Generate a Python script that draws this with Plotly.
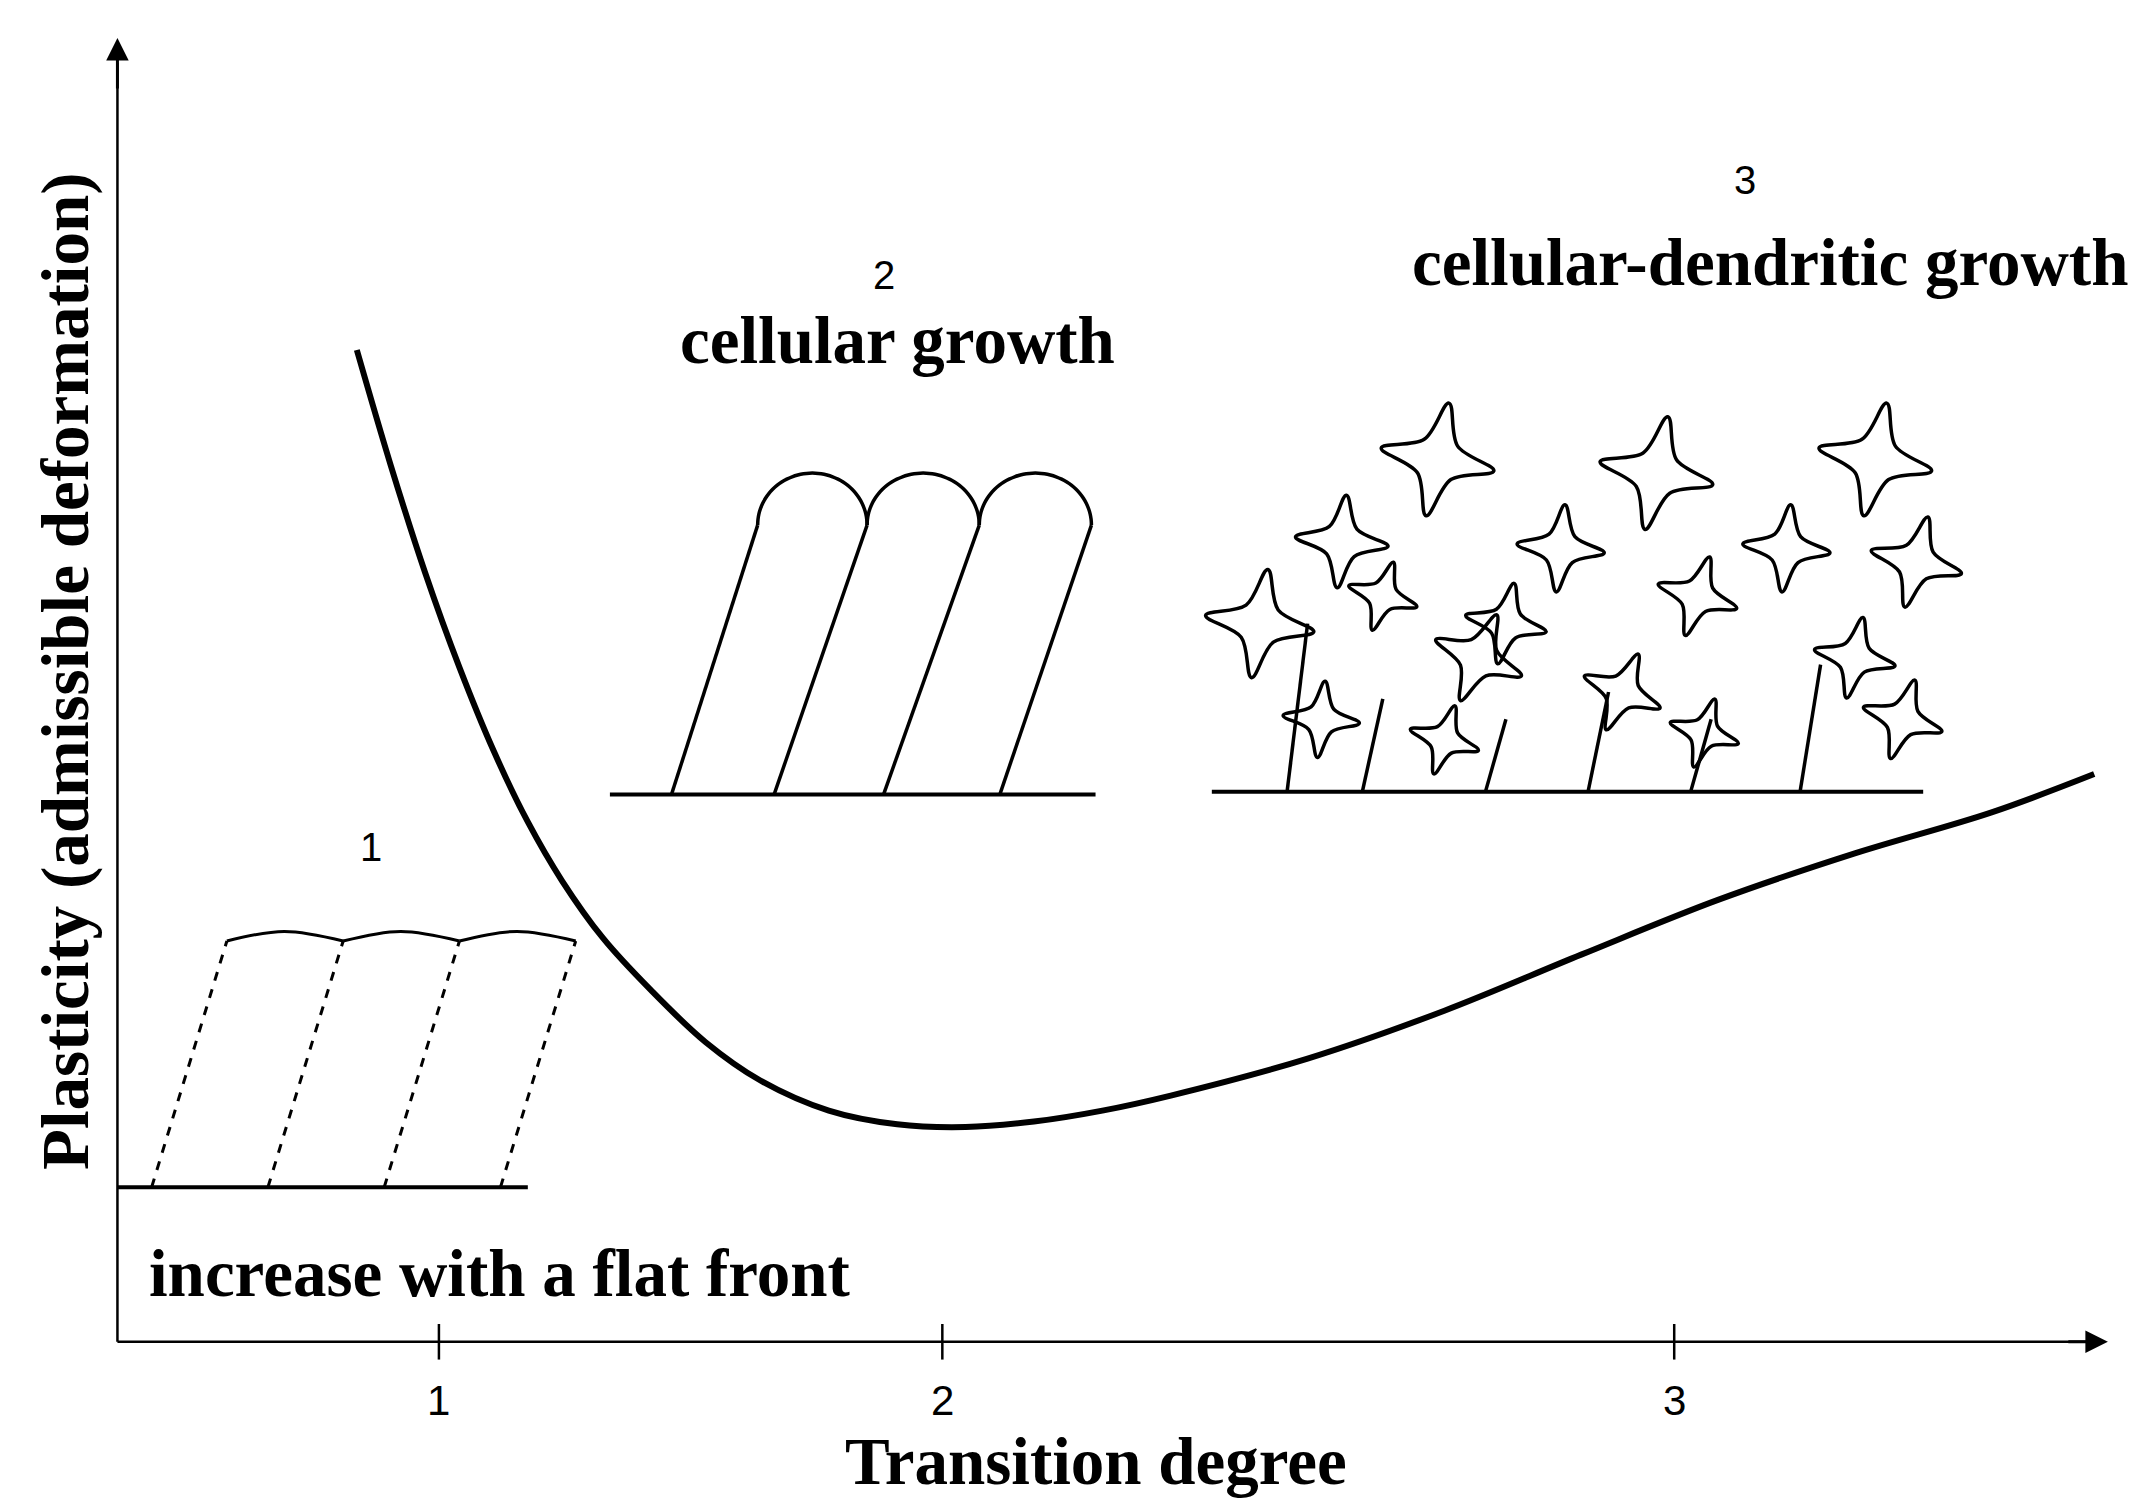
import numpy as np
import plotly.graph_objects as go

S = 2145/1568
# main curve (display coords, y down)
curve_x = [255, 280, 305, 330, 355, 380, 405, 435, 470, 510, 550, 600, 650, 700, 750, 800, 850, 950, 1050, 1150, 1250, 1350, 1450, 1525]
curve_y = [250, 335, 413, 482, 543, 595, 638, 680, 718, 756, 784, 806, 816, 818, 814, 806, 795, 768, 733, 692, 652, 618, 588, 560]
tick_pos = [315, 683, 1218]
tick_labels = ["1", "2", "3"]

def X(v): return [a*S for a in v]
def Y(v): return [1507 - a*S for a in v]

fig = go.Figure()
def line(xs, ys, w=3, dash=None, shape="linear"):
    fig.add_trace(go.Scatter(x=X(xs), y=Y(ys), mode="lines", hoverinfo="skip",
                             line=dict(color="black", width=w, dash=dash, shape=shape), showlegend=False))

# axes
line([80, 1520], [975, 975], 2.5)
line([80, 80], [975, 40], 2.5)
fig.add_annotation(x=1535*S, y=1507-975*S, ax=1505*S, ay=1507-975*S, xref="x", yref="y", axref="x", ayref="y",
                   showarrow=True, arrowhead=2, arrowsize=1.5, arrowwidth=3, arrowcolor="black", text="")
fig.add_annotation(x=80*S, y=1507-22*S, ax=80*S, ay=1507-60*S, xref="x", yref="y", axref="x", ayref="y",
                   showarrow=True, arrowhead=2, arrowsize=1.5, arrowwidth=3, arrowcolor="black", text="")
for p, t in zip(tick_pos, tick_labels):
    line([p, p], [962, 988], 2.5)
    fig.add_annotation(x=p*S, y=1507-1018*S, text=t, showarrow=False, font=dict(family="Liberation Sans", size=42, color="black"))

line(curve_x, curve_y, 6, shape="spline")

# sketch 1
line([80, 380], [862, 862], 4)
for b in [105, 190, 275, 360]:
    line([b, b+55], [862, 682], 3, dash="dash")
for a in [160, 245, 330]:
    line([a, a+42, a+85], [682, 675, 682], 3, shape="spline")
# sketch 2
line([440, 795], [575, 575], 4)
bases = [485, 560, 640, 725]
tops = [548, 628, 710, 792]
for b, t in zip(bases, tops):
    line([b, t], [575, 378], 3.5)
for i in range(3):
    a, c = tops[i], tops[i+1]
    th = np.linspace(np.pi, 0, 30)
    line(list((a+c)/2 + (c-a)/2*np.cos(th)), list(378 - 38*np.sin(th)), 3.5, shape="spline")
# sketch 3 dendrites
line([880, 1400], [573, 573], 4)
stars = [(1045, 330, 42, 0.2), (975, 390, 34, 0.1), (915, 450, 40, 0.15), (1075, 475, 34, 0.4), (1005, 430, 26, 0.3),
         (960, 520, 28, 0.1), (1050, 535, 26, 0.3), (1205, 340, 42, 0.2), (1135, 395, 32, 0.1), (1235, 430, 30, 0.3),
         (1095, 450, 30, 0.2), (1180, 500, 30, 0.4), (1240, 530, 26, 0.3), (1365, 330, 42, 0.2), (1300, 395, 32, 0.1),
         (1395, 405, 34, 0.25), (1350, 475, 30, 0.2), (1385, 520, 30, 0.3)]
for cx, cy, r, rot in stars:
    th = np.linspace(0, 2*np.pi, 9)[:-1] + rot
    rr = np.where(np.arange(8) % 2 == 0, r, r*0.42)
    xs = list(cx + rr*np.cos(th)); ys = list(cy + rr*np.sin(th))
    line(xs + xs[:1], ys + ys[:1], 3.5, shape="spline")
for b, t in [(935, 450), (990, 505), (1080, 520), (1155, 500), (1230, 520), (1310, 480)]:
    line([b, b+15], [573, t], 3.5)

serif = "Liberation Serif"
def txt(x, y, t, size, fam=serif, bold=True, angle=0):
    fig.add_annotation(x=x*S, y=1507-y*S, text=f"<b>{t}</b>" if bold else t, showarrow=False, textangle=angle,
                       font=dict(family=fam, size=size, color="black"))
txt(265, 613, "1", 40, "Liberation Sans", False)
txt(640, 195, "2", 40, "Liberation Sans", False)
txt(1270, 126, "3", 40, "Liberation Sans", False)
txt(650, 243, "cellular growth", 67)
txt(1288, 186, "cellular-dendritic growth", 67)
txt(360, 925, "increase with a flat front", 67)
txt(795, 1062, "Transition degree", 67)
txt(42, 485, "Plasticity (admissible deformation)", 67, angle=-90)

fig.update_layout(width=2145, height=1507, margin=dict(l=0, r=0, t=0, b=0), plot_bgcolor="white", paper_bgcolor="white",
                  xaxis=dict(range=[0, 2145], visible=False), yaxis=dict(range=[0, 1507], visible=False))
fig.write_html("out.html")
